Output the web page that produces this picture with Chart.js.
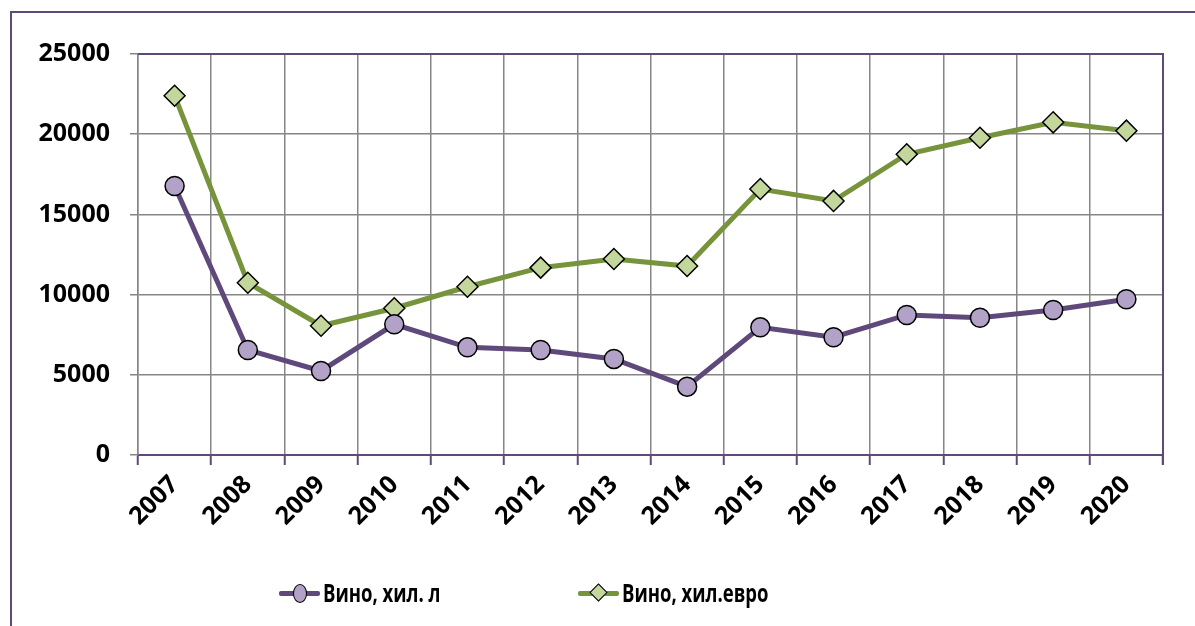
<!DOCTYPE html>
<html>
<head>
<meta charset="utf-8">
<script src="https://cdn.jsdelivr.net/npm/chart.js@4.4.1/dist/chart.umd.min.js"></script>
<style>
  html, body { margin: 0; padding: 0; background: #fff; overflow: hidden; }
  #wrap { position: relative; width: 1195px; height: 626px; }
  #frame { position: absolute; left: 10px; top: 11px; width: 1220px; height: 660px;
           border: 2px solid #5F497A; box-sizing: border-box; }
  canvas { position: absolute; left: 0; top: 0; }
  .leg { position: absolute; top: 575px; height: 36px; }
  .leg .ln { position: absolute; top: 16px; width: 41px; height: 5px; border-radius: 2px; }
  .leg .mk { position: absolute; border: 1.5px solid #000; box-sizing: border-box; }
  .leg .tx { position: absolute; top: 0; white-space: nowrap; font: bold 25px "Open Sans", sans-serif;
             line-height: 34px; color: #000; transform: scaleX(0.74); transform-origin: 0 50%; }
</style>
</head>
<body>
<div id="wrap">
  <div id="frame"></div>
  <canvas id="grafico" width="1195" height="626"></canvas>
  <div id="legenda"></div>
</div>
<script>
// данни
const GODINI = ['2007','2008','2009','2010','2011','2012','2013','2014','2015','2016','2017','2018','2019','2020'];
const VINO_L = [16770, 6550, 5240, 8150, 6710, 6550, 5990, 4260, 7960, 7340, 8730, 8560, 9040, 9710];
const VINO_EUR = [22400, 10740, 8060, 9150, 10490, 11680, 12220, 11780, 16580, 15840, 18750, 19780, 20740, 20220];
const Y_TICKS = [0, 5000, 10000, 15000, 20000, 25000];

const LILAV = '#5F497A';
const LILAV_FILL = '#B3A2C7';
const ZELEN = '#77933C';
const ZELEN_FILL = '#C3D69B';
const SIVO = '#868686';
const FONT = { family: '"Open Sans", sans-serif', size: 25, weight: 'bold' };

const SERII = [
  { label: 'Вино, хил. л', data: VINO_L, color: LILAV, fill: LILAV_FILL, style: 'circle', r: 9.5 },
  { label: 'Вино, хил.евро', data: VINO_EUR, color: ZELEN, fill: ZELEN_FILL, style: 'rectRot', r: 10.5 },
];

// рамка на графичната област (горе и вдясно)
const ramka = {
  id: 'ramka',
  beforeDatasetsDraw(chart) {
    const { ctx, chartArea: a } = chart;
    ctx.save();
    ctx.strokeStyle = LILAV;
    ctx.lineWidth = 2;
    ctx.beginPath();
    ctx.moveTo(a.left, a.top);
    ctx.lineTo(a.right, a.top);
    ctx.lineTo(a.right, a.bottom + 10);
    ctx.stroke();
    ctx.restore();
  }
};

new Chart(document.getElementById('grafico'), {
  type: 'line',
  data: {
    labels: GODINI,
    datasets: SERII.map(s => ({
      label: s.label,
      data: s.data,
      borderColor: s.color,
      borderWidth: 5,
      backgroundColor: s.fill,
      pointStyle: s.style,
      pointRadius: s.r,
      pointHoverRadius: s.r,
      pointBackgroundColor: s.fill,
      pointBorderColor: '#000',
      pointBorderWidth: 1.5,
      tension: 0,
      fill: false
    }))
  },
  options: {
    responsive: false,
    animation: false,
    devicePixelRatio: 1,
    layout: { padding: { left: 10, top: 54, right: 32, bottom: 0 } },
    plugins: { legend: { display: false }, tooltip: { enabled: false } },
    scales: {
      x: {
        offset: true,
        grid: { offset: true, color: SIVO, lineWidth: 1.5, tickLength: 10, tickColor: LILAV, tickWidth: 2 },
        border: { color: LILAV, width: 2 },
        ticks: { color: '#000', font: FONT, minRotation: 45, maxRotation: 45, padding: 5, autoSkip: false },
        afterFit(scale) { scale.height = 171; }
      },
      y: {
        min: 0, max: 25000,
        afterBuildTicks(scale) { scale.ticks = Y_TICKS.map(v => ({ value: v })); },
        grid: { color: SIVO, lineWidth: 1.5, tickLength: 8, tickColor: SIVO },
        border: { color: SIVO, width: 1.5 },
        ticks: { color: '#000', font: FONT, padding: 20, callback: v => String(v) },
        afterFit(scale) { scale.width = 128; }
      }
    }
  },
  plugins: [ramka]
});

// легенда
const LEG_POS = [279, 578];
const leg = document.getElementById('legenda');
SERII.forEach((s, i) => {
  const x = LEG_POS[i];
  const d = document.createElement('div');
  d.className = 'leg';
  d.style.left = x + 'px';
  const mk = s.style === 'circle'
    ? `<div class="mk" style="left:14px;top:9px;width:14px;height:19px;border-radius:50%;background:${s.fill}"></div>`
    : `<div class="mk" style="left:14px;top:11px;width:13px;height:13px;transform:rotate(45deg);background:${s.fill}"></div>`;
  d.innerHTML = `<div class="ln" style="background:${s.color}"></div>${mk}<div class="tx" style="left:44px">${s.label}</div>`;
  leg.appendChild(d);
});
</script>
</body>
</html>
